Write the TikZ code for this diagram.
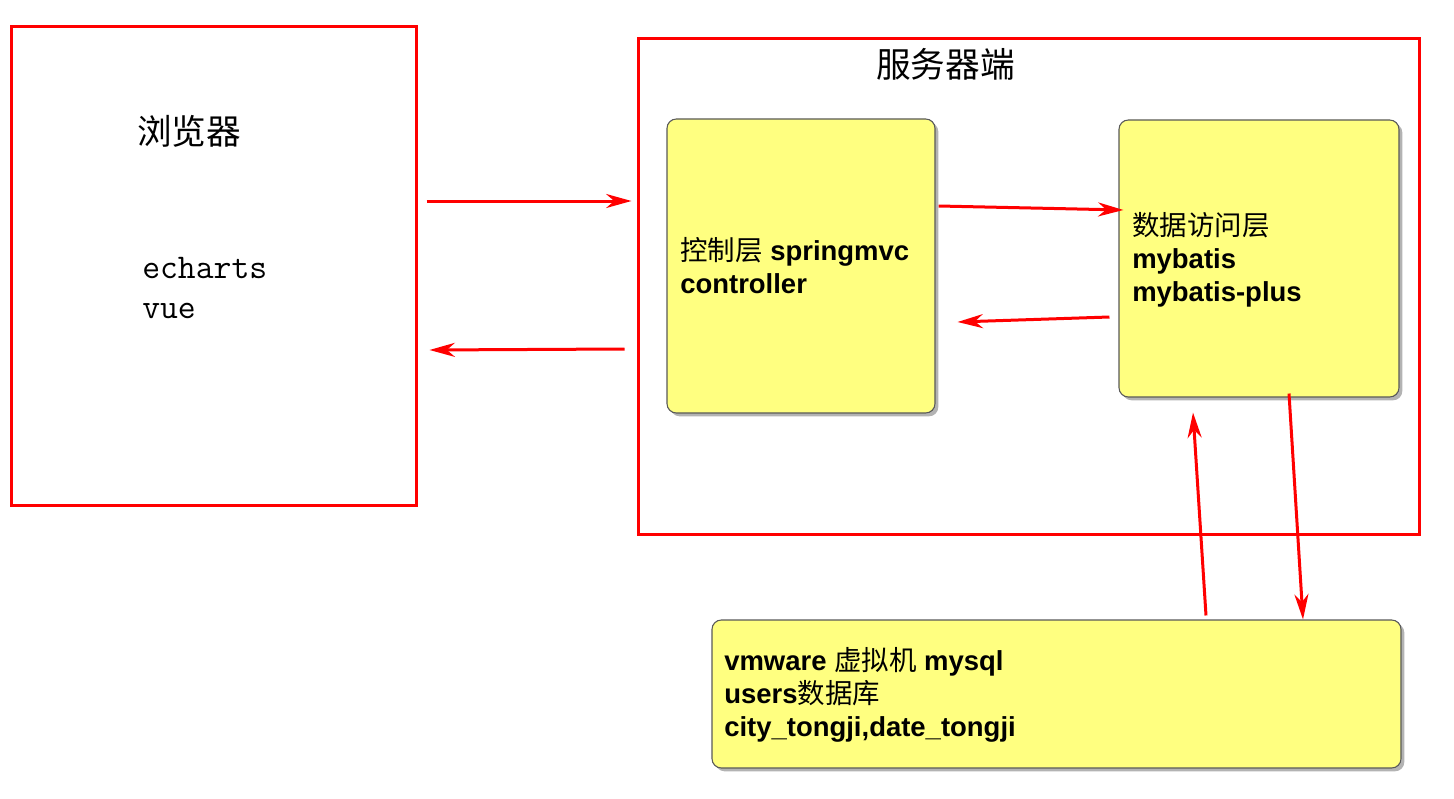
\documentclass[tikz,border=0pt]{standalone}
\usepackage{fontspec}
\setmainfont{Liberation Sans}
\newfontfamily\cjk{Noto Sans CJK SC}
\usepackage{tikz}
\usetikzlibrary{arrows.meta,calc,fit,shadows}
\definecolor{noteyellow}{RGB}{255,255,128}

\begin{document}
\begin{tikzpicture}[x=0.75pt,y=-0.75pt,
  >={Stealth[length=19pt,width=10.5pt,inset=6pt]},
  frame/.style={draw=red,line width=2.25pt,inner sep=0pt},
  note/.style={draw=black!65,line width=0.8pt,fill=noteyellow,rounded corners=7pt,inner sep=0pt,
    drop shadow={shadow xshift=2.5pt,shadow yshift=-2.5pt,opacity=0.6}},
  txt/.style={anchor=west,inner sep=0pt,align=left,font=\fontsize{20.6}{24.75}\selectfont},
  big/.style={anchor=west,inner sep=0pt,align=left,font=\fontsize{26}{30}\selectfont},
  arr/.style={->,red,line width=2.25pt}]
  \useasboundingbox (0,0) rectangle (1454,799);
  % frames and boxes
  \node[frame,fit={(11,27) (416,505)}] (browser) {};
  \node[frame,fit={(638,39) (1419,534)}] (server) {};
  \node[note,fit={(667,119) (935,413)}] (ctrl) {};
  \node[note,fit={(1119,120) (1399,397)}] (dao) {};
  \node[note,fit={(712,620) (1401,768)}] (db) {};
  % texts
  \node[big] (browsertitle) at (137,131) {\cjk 浏览器};
  \node[big,font=\ttfamily\fontsize{26}{30}\selectfont] (browserlibs) at (142,288) {echarts\\vue};
  \node[big] (servertitle) at (876,64) {\cjk 服务器端};
  \node[txt] (ctrltext) at (680,266) {{\cjk 控制层} \textbf{springmvc}\\\textbf{controller}};
  \node[txt] (daotext) at (1132,260) {{\cjk 数据访问层}\\\textbf{mybatis}\\\textbf{mybatis-plus}};
  \node[txt] (dbtext) at (724,695) {\textbf{vmware} {\cjk 虚拟机} \textbf{mysql}\\\textbf{users}{\cjk 数据库}\\\textbf{city\_tongji,date\_tongji}};
  % arrows
  \draw[arr] ($(browser.east)+(9,-65)$) -- ($(server.west)+(-5,-85.5)$);
  \draw[arr] ($(server.west)+(-12,62.5)$) -- ($(browser.east)+(12,84)$);
  \draw[arr] ($(ctrl.east)+(3,-60)$) -- ($(dao.west)+(5,-48.5)$);
  \draw[arr] ($(dao.west)+(-9,58.5)$) -- ($(ctrl.east)+(22,56)$);
  \draw[arr] ($(db.north)+(149.5,-4)$) -- ($(dao.south)+(-66,15)$);
  \draw[arr] ($(dao.south)+(30,-4)$) -- ($(db.north)+(246.5,0)$);
\end{tikzpicture}
\end{document}
